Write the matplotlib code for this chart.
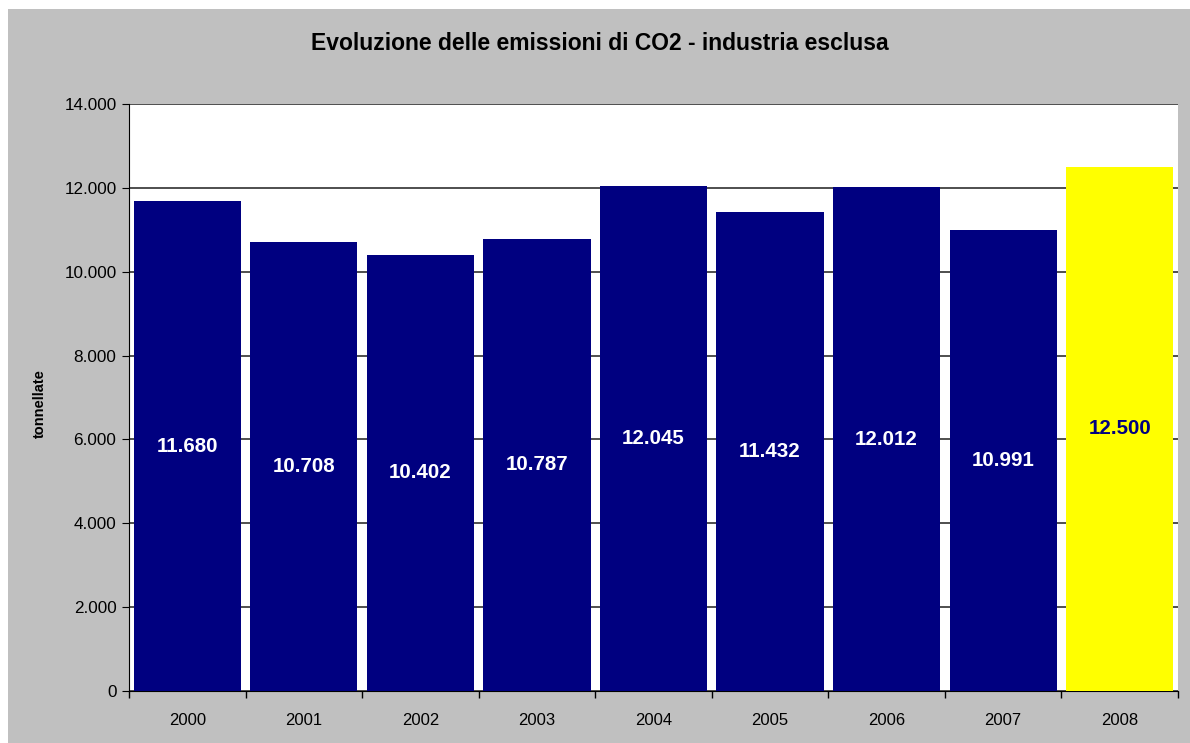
import matplotlib.pyplot as plt
from matplotlib.patches import Rectangle
from matplotlib.ticker import FuncFormatter

plt.rcParams['font.family'] = ['Liberation Sans', 'DejaVu Sans']

# Data
years = ['2000', '2001', '2002', '2003', '2004', '2005', '2006', '2007', '2008']
emissions = [11680, 10708, 10402, 10787, 12045, 11432, 12012, 10991, 12500]
bar_colors = ['#000080'] * 8 + ['#FFFF00']
label_colors = ['white'] * 8 + ['#000080']

W, H = 1190, 743
fig = plt.figure(figsize=(W / 100, H / 100), dpi=100, facecolor='white')

# grey chart area (small white margin at left and top, as in the original)
fig.patches.append(Rectangle((8 / W, 0), 1 - 8 / W, 1 - 9 / H,
                             transform=fig.transFigure, facecolor='#C0C0C0',
                             edgecolor='none', zorder=-1))

ax = fig.add_axes([129 / W, 1 - 691 / H, (1178 - 129) / W, (691 - 104) / H])
ax.set_facecolor('white')

x = range(len(years))
bars = ax.bar(x, emissions, width=0.92, color=bar_colors, zorder=3)

for i, (val, col) in enumerate(zip(emissions, label_colors)):
    ax.text(i, val / 2, f'{val:,}'.replace(',', '.'), ha='center', va='center',
            color=col, fontsize=14.8, fontweight='bold', zorder=4)

ax.set_xlim(-0.5, len(years) - 0.5)
ax.set_ylim(0, 14000)
ax.set_yticks(range(0, 14001, 2000))
ax.yaxis.set_major_formatter(FuncFormatter(lambda v, p: f'{int(v):,}'.replace(',', '.')))
ax.grid(axis='y', color='#404040', linewidth=1.3, zorder=0)

ax.set_xticks(list(x))
ax.set_xticklabels(years, fontsize=12)
ax.set_xticks([i + 0.5 for i in range(-1, len(years))], minor=True)
ax.tick_params(axis='x', which='major', length=0, pad=16)
ax.tick_params(axis='x', which='minor', length=5, direction='out', width=1)
ax.tick_params(axis='y', length=5, direction='out', labelsize=12.3, pad=4)

for side in ['top', 'right']:
    ax.spines[side].set_visible(False)
ax.spines['left'].set_color('black')
ax.spines['bottom'].set_color('black')

ax.set_ylabel('tonnellate', fontsize=10.5, fontweight='bold')
ax.yaxis.set_label_coords((47 - 129) / (1178 - 129), 0.49)

fig.text((307 + 893) / 2 / W, 1 - 43 / H,
         'Evoluzione delle emissioni di CO2 - industria esclusa',
         ha='center', va='center', fontsize=16.5, fontweight='bold')

fig.savefig('out.png', dpi=100, facecolor=fig.get_facecolor())
